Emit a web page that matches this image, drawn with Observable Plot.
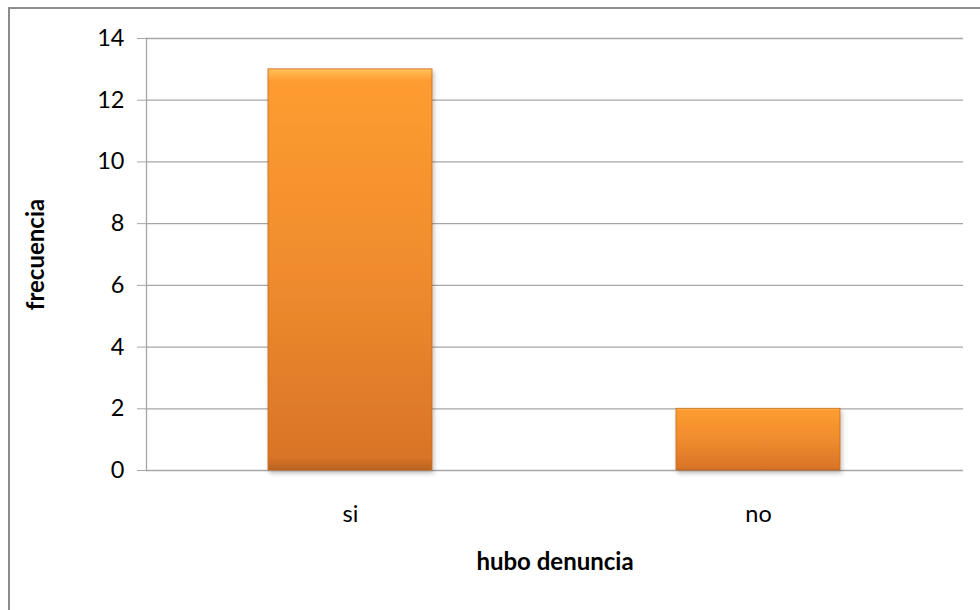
<!DOCTYPE html>
<html>
<head>
<meta charset="utf-8">
<script src="https://cdn.jsdelivr.net/npm/d3@7"></script>
<script src="https://cdn.jsdelivr.net/npm/@observablehq/plot@0.6"></script>
<style>
  html, body { margin: 0; padding: 0; background: #fff; overflow: hidden; }
  #wrap { position: relative; width: 980px; height: 610px; }
  #border { position: absolute; left: 8px; top: 7px; width: 1100px; height: 800px; border: 2px solid #8c8c8c; box-sizing: border-box; }
  #chart { position: absolute; left: 0; top: 0; }
</style>
</head>
<body>
<div id="wrap"><div id="border"></div><div id="chart"></div></div>
<script>
const categories = ["si", "no"];
const frecuencia = [13, 2];
const yTicks = [0, 2, 4, 6, 8, 10, 12, 14];
const xTitle = "hubo denuncia";
const yTitle = "frecuencia";

const data = categories.map((c, i) => ({categoria: c, valor: frecuencia[i]}));

const chart = Plot.plot({
  width: 980,
  height: 610,
  marginLeft: 146,
  marginRight: 17,
  marginTop: 38,
  marginBottom: 140,
  style: {fontFamily: "Lato, 'Open Sans', sans-serif", fontSize: "23px", color: "#000", background: "transparent"},
  x: {domain: categories, paddingInner: 0.597, paddingOuter: 0.2985, label: null},
  y: {domain: [0, 14], label: null},
  marks: [
    Plot.ruleY(yTicks, {stroke: "#a6a6a6", strokeWidth: 1.3}),
    Plot.frame({anchor: "left", stroke: "#a6a6a6", strokeWidth: 1.3}),
    Plot.axisY({ticks: yTicks, tickSize: 9, tickPadding: 13, stroke: "#a6a6a6", fontSize: 23.5, fill: "#000", label: null}),
    Plot.axisX({tickSize: 0, tickPadding: 35, fontSize: 23.5, fill: "#000", label: null}),
    Plot.barY(data, {x: "categoria", y: "valor", fill: "url(#barGrad)", stroke: "#c8691f", strokeWidth: 0.8}),
    Plot.text([xTitle], {frameAnchor: "bottom", dy: 99, fontWeight: "bold", fontSize: 24, fill: "#000"}),
    Plot.text([yTitle], {frameAnchor: "left", textAnchor: "middle", dx: -110, rotate: -90, fontWeight: "bold", fontSize: 24, fill: "#000"})
  ]
});

// gradient + shadow definitions for bar styling
const ns = "http://www.w3.org/2000/svg";
const defs = document.createElementNS(ns, "defs");
defs.innerHTML = `
  <linearGradient id="barGrad" x1="0" y1="0" x2="0" y2="1">
    <stop offset="0" stop-color="#ffc25a"/>
    <stop offset="0.03" stop-color="#fe9c30"/>
    <stop offset="0.5" stop-color="#f08c2e"/>
    <stop offset="0.97" stop-color="#d97427"/>
    <stop offset="1" stop-color="#b8621f"/>
  </linearGradient>
  <filter id="barShadow" x="-10%" y="-10%" width="125%" height="125%">
    <feDropShadow dx="1.5" dy="3" stdDeviation="2" flood-color="#000" flood-opacity="0.25"/>
  </filter>`;
chart.insertBefore(defs, chart.firstChild);
chart.querySelectorAll("rect").forEach(r => {
  if ((r.getAttribute("fill") || r.parentNode.getAttribute("fill") || "").includes("barGrad")) r.setAttribute("filter", "url(#barShadow)");
});
document.getElementById("chart").appendChild(chart);
</script>
</body>
</html>
